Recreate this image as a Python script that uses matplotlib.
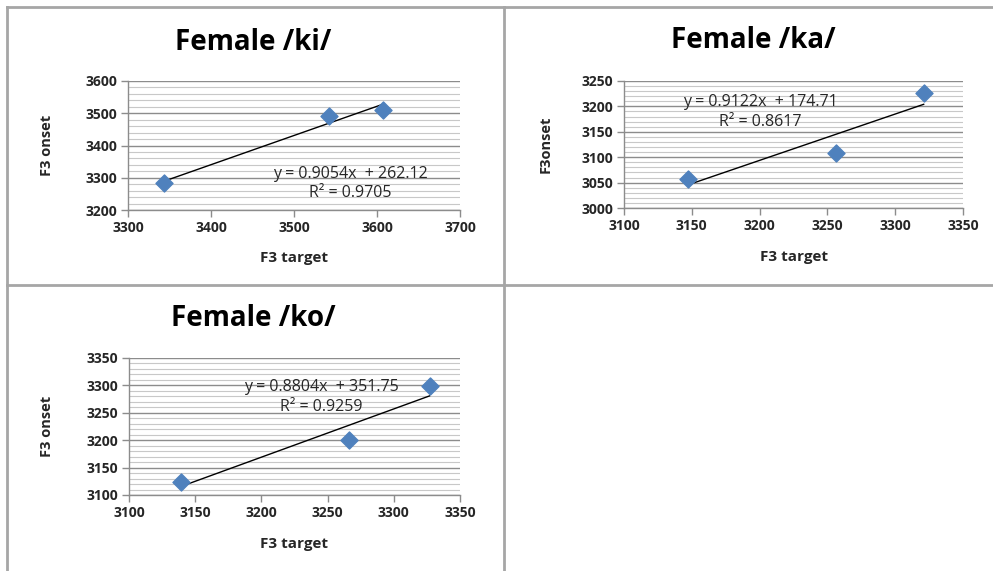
import numpy as np
import matplotlib.pyplot as plt
from matplotlib.ticker import MultipleLocator
from matplotlib.lines import Line2D

# F3 values per syllable (Hz)
ki_target = [3343, 3542, 3607]
ki_onset = [3285, 3492, 3510]
ki_fit = (0.9054, 262.12, 0.9705)

ka_target = [3147, 3256, 3321]
ka_onset = [3058, 3109, 3227]
ka_fit = (0.9122, 174.71, 0.8617)

ko_target = [3139, 3266, 3327]
ko_onset = [3123, 3200, 3299]
ko_fit = (0.8804, 351.75, 0.9259)

W, H = 993, 571
fig = plt.figure(figsize=(W / 100, H / 100), dpi=100)
fig.patch.set_facecolor('white')

FONT = 'Open Sans'
BLUE = '#4F81BD'
TXT = '#262626'


def box(left, top, right, bottom):
    # pixel box -> figure fractions
    return [left / W, 1 - bottom / H, (right - left) / W, (bottom - top) / H]


def panel(rect, title, title_xy, xs, ys, fit, xlim, xstep, ylim, ystep, yminor,
          ylabel, ylabel_x, xlabel_y, eq_xy, r2_xy):
    ax = fig.add_axes(box(*rect))
    ax.set_xlim(*xlim)
    ax.set_ylim(*ylim)
    ax.xaxis.set_major_locator(MultipleLocator(xstep))
    ax.yaxis.set_major_locator(MultipleLocator(ystep))
    ax.yaxis.set_minor_locator(MultipleLocator(yminor))
    ax.grid(which='minor', axis='y', color='#c8c8c8', lw=0.8)
    ax.grid(which='major', axis='y', color='#8c8c8c', lw=1.0)
    ax.set_axisbelow(True)
    for s in ['top', 'right']:
        ax.spines[s].set_visible(False)
    for s in ['left', 'bottom']:
        ax.spines[s].set_color('#8c8c8c')
        ax.spines[s].set_linewidth(1.0)
    ax.tick_params(which='major', length=5, width=1.0, color='#8c8c8c',
                   labelsize=10, labelcolor=TXT, pad=3)
    ax.tick_params(which='minor', length=0)
    for lab in ax.get_xticklabels() + ax.get_yticklabels():
        lab.set_fontfamily(FONT)
        lab.set_fontweight('bold')

    # linear trendline from the stated equation
    slope, icpt, r2 = fit
    tx = np.array([min(xs), max(xs)])
    ax.plot(tx, slope * tx + icpt, color='black', lw=1.0, zorder=3)
    ax.scatter(xs, ys, marker='D', s=75, color=BLUE, edgecolor=BLUE, zorder=4)

    ax.text(*eq_xy, f'y = {slope:.4f}x  + {icpt:.2f}', transform=ax.transAxes,
            ha='center', va='center', fontsize=11.5, family=FONT, color=TXT)
    ax.text(*r2_xy, f'R² = {r2:.4f}', transform=ax.transAxes,
            ha='center', va='center', fontsize=11.5, family=FONT, color=TXT)

    fig.text(title_xy[0] / W, 1 - title_xy[1] / H, title, ha='center', va='center',
             fontsize=20, fontweight='bold', family=FONT, color='black')
    cx = (rect[0] + rect[2]) / 2
    fig.text(cx / W, 1 - xlabel_y / H, 'F3 target', ha='center', va='center',
             fontsize=11, fontweight='bold', family=FONT, color=TXT)
    cy = (rect[1] + rect[3]) / 2
    fig.text(ylabel_x / W, 1 - cy / H, ylabel, ha='center', va='center',
             rotation=90, fontsize=10.5, fontweight='bold', family=FONT, color=TXT)
    return ax


panel((128, 81, 460, 210), 'Female /ki/', (253, 42), ki_target, ki_onset, ki_fit,
      (3300, 3700), 100, (3200, 3600), 100, 20,
      'F3 onset', 47, 258, (0.669, 0.279), (0.669, 0.13))

panel((624, 81, 963, 208), 'Female /ka/', (753, 41), ka_target, ka_onset, ka_fit,
      (3100, 3350), 50, (3000, 3250), 50, 10,
      'F3onset', 546, 257, (0.401, 0.837), (0.401, 0.68))

panel((129, 358, 460, 495), 'Female /ko/', (253, 318), ko_target, ko_onset, ko_fit,
      (3100, 3350), 50, (3100, 3350), 50, 10,
      'F3 onset', 47, 544, (0.582, 0.786), (0.582, 0.64))

# table cell borders
border = dict(color='#a6a6a6', lw=2.0, transform=fig.transFigure)
fig.add_artist(Line2D([7 / W, 1], [1 - 7 / H] * 2, **border))
fig.add_artist(Line2D([7 / W, 1], [1 - 285 / H] * 2, **border))
fig.add_artist(Line2D([7 / W] * 2, [1 - 7 / H, 0], **border))
fig.add_artist(Line2D([504 / W] * 2, [1 - 7 / H, 0], **border))

fig.savefig('out.png', dpi=100)
